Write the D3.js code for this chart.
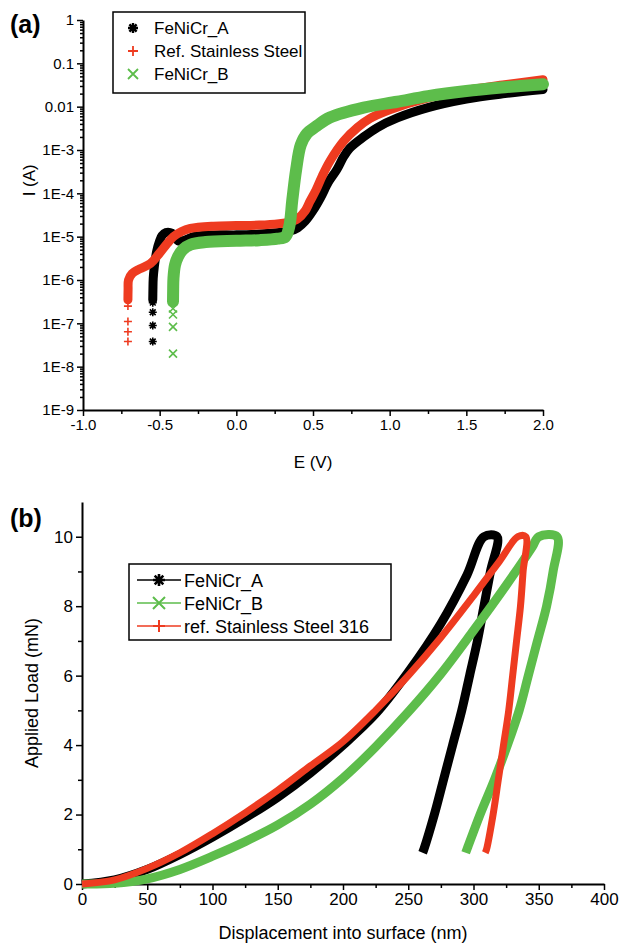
<!DOCTYPE html>
<html>
<head>
<meta charset="utf-8">
<script src="https://cdn.jsdelivr.net/npm/d3@7"></script>
<style>
body { margin: 0; background: #fff; }
svg { font-family: "Liberation Sans", Arial, sans-serif; }
</style>
</head>
<body>
<div class="container"></div>
<script>
// ---- panel (a): polarization curves, [E (V), I (A)] ----
var tailA = [[-0.545, 3.8e-8], [-0.545, 8.9e-8], [-0.545, 1.8e-7], [-0.545, 3.0e-7]];
var polA = [[-0.545, 3.5e-7], [-0.544, 6e-7], [-0.542, 1.1e-6], [-0.535, 2e-6], [-0.52, 4.5e-6], [-0.50, 8e-6],
    [-0.485, 1.05e-5], [-0.46, 1.25e-5], [-0.42, 1.2e-5], [-0.38, 8e-6], [-0.34, 8.2e-6], [-0.28, 1e-5],
    [-0.15, 1.1e-5], [0.0, 1.1e-5], [0.15, 1.15e-5], [0.28, 1.25e-5], [0.35, 1.35e-5], [0.40, 1.6e-5],
    [0.45, 2.3e-5], [0.50, 4e-5], [0.55, 8e-5], [0.60, 1.8e-4], [0.655, 3.5e-4], [0.70, 7e-4], [0.74, 1.1e-3],
    [0.83, 2e-3], [0.92, 3.3e-3], [1.05, 5.5e-3], [1.25, 9.5e-3], [1.5, 1.5e-2], [1.75, 2.0e-2], [2.0, 2.5e-2]];

var tailRef = [[-0.707, 3.8e-8], [-0.707, 6.4e-8], [-0.707, 1.1e-7], [-0.707, 2.5e-7]];
var polRef = [[-0.707, 3.5e-7], [-0.706, 6e-7], [-0.703, 1e-6], [-0.68, 1.4e-6], [-0.63, 1.8e-6], [-0.56, 2.4e-6],
    [-0.50, 4.2e-6], [-0.45, 7e-6], [-0.41, 1e-5], [-0.36, 1.3e-5], [-0.30, 1.55e-5], [-0.15, 1.75e-5],
    [0.0, 1.8e-5], [0.15, 1.85e-5], [0.28, 2e-5], [0.34, 2.15e-5], [0.40, 2.6e-5], [0.45, 4e-5], [0.48, 6.5e-5],
    [0.52, 1.2e-4], [0.56, 2.5e-4], [0.61, 5.5e-4], [0.70, 1.6e-3], [0.79, 3.3e-3], [0.87, 5.3e-3], [1.0, 8.5e-3],
    [1.25, 1.6e-2], [1.5, 2.4e-2], [1.75, 3.2e-2], [2.0, 4.2e-2]];

var tailB = [[-0.413, 2e-8], [-0.413, 8.3e-8], [-0.413, 1.6e-7], [-0.413, 2.2e-7]];
var polB = [[-0.413, 3.2e-7], [-0.412, 6e-7], [-0.410, 1.1e-6], [-0.40, 2.2e-6], [-0.38, 3.5e-6], [-0.35, 5e-6],
    [-0.30, 6.5e-6], [-0.2, 7.5e-6], [0.0, 8e-6], [0.15, 8.3e-6], [0.27, 9e-6], [0.32, 1.0e-5], [0.345, 1.7e-5],
    [0.365, 7e-5], [0.39, 3.5e-4], [0.42, 1.3e-3], [0.46, 2.4e-3], [0.52, 3.5e-3], [0.61, 5.6e-3], [0.83, 9.5e-3],
    [1.05, 1.3e-2], [1.25, 1.75e-2], [1.5, 2.3e-2], [1.75, 2.8e-2], [2.0, 3.3e-2]];

var eTicks = [-1.0, -0.5, 0.0, 0.5, 1.0, 1.5, 2.0];
var iTicks = [1, 0.1, 0.01, 1e-3, 1e-4, 1e-5, 1e-6, 1e-7, 1e-8, 1e-9];
var iTickLabels = ["1", "0.1", "0.01", "1E-3", "1E-4", "1E-5", "1E-6", "1E-7", "1E-8", "1E-9"];
var legendA = ["FeNiCr_A", "Ref. Stainless Steel", "FeNiCr_B"];

// ---- panel (b): nanoindentation, [displacement (nm), load (mN)] ----
var indentA = [[0, 0], [25, 0.12], [50, 0.42], [75, 0.85], [100, 1.35], [125, 1.9], [150, 2.5], [175, 3.2],
    [200, 4.0], [225, 4.9], [250, 6.1], [275, 7.5], [295, 8.9], [308, 10], [318, 10],
    [313, 9], [308, 8], [303, 7], [297, 6], [291, 5], [284, 4], [277, 3], [270, 2], [262, 1], [261, 0.9]];
var indentB = [[0, 0], [25, 0.02], [50, 0.15], [75, 0.42], [100, 0.8], [125, 1.22], [150, 1.7], [175, 2.3],
    [200, 3.05], [225, 3.95], [250, 4.95], [275, 6.05], [300, 7.3], [325, 8.6], [345, 9.7], [350, 10], [364, 10],
    [361, 9], [356, 8], [349, 7], [342, 6], [335, 5], [326, 4], [316, 3], [305, 2], [295, 1], [294, 0.9]];
var indentRef = [[0, 0], [25, 0.12], [50, 0.45], [75, 0.9], [100, 1.45], [125, 2.05], [150, 2.7], [175, 3.4],
    [200, 4.1], [225, 5.0], [250, 6.0], [275, 7.1], [300, 8.3], [320, 9.3], [334, 10], [340, 10],
    [338, 9], [336, 8], [333, 7], [330, 6], [327, 5], [323, 4], [319, 3], [315, 2], [310, 1], [309, 0.9]];

var dTicks = [0, 50, 100, 150, 200, 250, 300, 350, 400];
var loadTicks = [0, 2, 4, 6, 8, 10];
var legendB = ["FeNiCr_A", "FeNiCr_B", "ref. Stainless Steel 316"];

var black = "#000", red = "#ee3b20", green = "#5dbd4b";

var W = 620, H = 944;
var svg = d3.select("div.container").append("svg")
    .attr("width", W)
    .attr("height", H);

// marker glyphs: star (asterisk), plus, times
function glyph(type, s) {
    var d = s * 0.72;
    if (type === "star")
        return "M" + (-s) + ",0H" + s + "M0," + (-s) + "V" + s +
            "M" + (-d) + "," + (-d) + "L" + d + "," + d + "M" + (-d) + "," + d + "L" + d + "," + (-d);
    if (type === "plus")
        return "M" + (-s) + ",0H" + s + "M0," + (-s) + "V" + s;
    return "M" + (-s) + "," + (-s) + "L" + s + "," + s + "M" + (-s) + "," + s + "L" + s + "," + (-s);
}

/* ================= panel (a) ================= */
var xa = d3.scaleLinear().domain([-1, 2]).range([83, 543]);
var ya = d3.scaleLog().domain([1e-9, 1]).range([410, 20]);

var ga = svg.append("g");

var minorE = d3.range(-0.75, 2, 0.5);
ga.append("g").attr("transform", "translate(0," + ya(1e-9) + ")")
    .call(d3.axisBottom(xa).tickValues(minorE).tickSize(4).tickFormat(""))
    .call(function (g) { g.select(".domain").remove(); });
ga.append("g").attr("class", "ax").attr("transform", "translate(0," + ya(1e-9) + ")")
    .call(d3.axisBottom(xa).tickValues(eTicks).tickSize(6).tickSizeOuter(0)
        .tickFormat(function (d) { return d.toFixed(1); }));

var minorI = [];
iTicks.forEach(function (t) {
    if (t < 1) for (var k = 2; k < 10; k++) minorI.push(t * k);
});
ga.append("g").attr("transform", "translate(" + xa(-1) + ",0)")
    .call(d3.axisLeft(ya).tickValues(minorI).tickSize(3).tickFormat(""))
    .call(function (g) { g.select(".domain").remove(); });
ga.append("g").attr("class", "ax").attr("transform", "translate(" + xa(-1) + ",0)")
    .call(d3.axisLeft(ya).tickValues(iTicks).tickSize(6).tickSizeOuter(0)
        .tickFormat(function (d, i) { return iTickLabels[i]; }));

var lineA = d3.line()
    .x(function (d) { return xa(d[0]); })
    .y(function (d) { return ya(d[1]); })
    .curve(d3.curveCatmullRom.alpha(0.5));

var seriesA = [
    {pts: polA, tail: tailA, color: black, w: 9, g: "star"},
    {pts: polRef, tail: tailRef, color: red, w: 9, g: "plus"},
    {pts: polB, tail: tailB, color: green, w: 12, g: "times"}
];
seriesA.forEach(function (s) {
    ga.append("path").datum(s.pts)
        .attr("d", lineA)
        .attr("fill", "none")
        .attr("stroke", s.color)
        .attr("stroke-width", s.w)
        .attr("stroke-linejoin", "round")
        .attr("stroke-linecap", "round");
    ga.selectAll(null).data(s.tail).enter().append("path")
        .attr("transform", function (d) { return "translate(" + xa(d[0]) + "," + ya(d[1]) + ")"; })
        .attr("d", glyph(s.g, 4))
        .attr("stroke", s.color)
        .attr("stroke-width", 1.6)
        .attr("fill", "none");
});

// legend (a)
var lga = ga.append("g");
lga.append("rect").attr("x", 113).attr("y", 12).attr("width", 192).attr("height", 81)
    .attr("fill", "#fff").attr("stroke", "#000").attr("stroke-width", 1.5);
legendA.forEach(function (name, i) {
    var yy = 28 + i * 23;
    lga.append("path").attr("transform", "translate(133," + yy + ")")
        .attr("d", glyph(seriesA[i].g, 5))
        .attr("stroke", seriesA[i].color).attr("stroke-width", i === 0 ? 2.4 : 1.8).attr("fill", "none");
    lga.append("text").attr("x", 154).attr("y", yy + 6).attr("font-size", 17).text(name);
});

ga.append("text").attr("x", 10).attr("y", 33).attr("font-size", 25).attr("font-weight", "bold").text("(a)");
ga.append("text").attr("x", xa(0.5)).attr("y", 468).attr("text-anchor", "middle").attr("font-size", 17).text("E (V)");
ga.append("text").attr("transform", "translate(35," + ya(2e-4) + ") rotate(-90)")
    .attr("text-anchor", "middle").attr("font-size", 17).text("I (A)");

/* ================= panel (b) ================= */
var xb = d3.scaleLinear().domain([0, 400]).range([82, 604]);
var yb = d3.scaleLinear().domain([0, 11]).range([884, 502]);

var gb = svg.append("g");

gb.append("g").attr("transform", "translate(0," + yb(0) + ")")
    .call(d3.axisBottom(xb).tickValues(d3.range(25, 400, 50)).tickSize(4).tickFormat(""))
    .call(function (g) { g.select(".domain").remove(); });
gb.append("g").attr("class", "ax").attr("transform", "translate(0," + yb(0) + ")")
    .call(d3.axisBottom(xb).tickValues(dTicks).tickSize(6).tickSizeOuter(0));

gb.append("g").attr("transform", "translate(" + xb(0) + ",0)")
    .call(d3.axisLeft(yb).tickValues([1, 3, 5, 7, 9]).tickSize(4).tickFormat(""))
    .call(function (g) { g.select(".domain").remove(); });
gb.append("g").attr("class", "ax").attr("transform", "translate(" + xb(0) + ",0)")
    .call(d3.axisLeft(yb).tickValues(loadTicks).tickSize(6).tickSizeOuter(0));

var lineB = d3.line()
    .x(function (d) { return xb(d[0]); })
    .y(function (d) { return yb(d[1]); })
    .curve(d3.curveCatmullRom.alpha(0.5));

var seriesB = [
    {pts: indentA, color: black, w: 9, g: "star"},
    {pts: indentB, color: green, w: 9, g: "times"},
    {pts: indentRef, color: red, w: 7, g: "plus"}
];
seriesB.forEach(function (s) {
    gb.append("path").datum(s.pts)
        .attr("d", lineB)
        .attr("fill", "none")
        .attr("stroke", s.color)
        .attr("stroke-width", s.w)
        .attr("stroke-linejoin", "round");
});

// legend (b)
var lgb = gb.append("g");
lgb.append("rect").attr("x", 129).attr("y", 564).attr("width", 262).attr("height", 76)
    .attr("fill", "#fff").attr("stroke", "#000").attr("stroke-width", 1.5);
legendB.forEach(function (name, i) {
    var yy = 580 + i * 23;
    lgb.append("line").attr("x1", 137).attr("x2", 181).attr("y1", yy).attr("y2", yy)
        .attr("stroke", seriesB[i].color).attr("stroke-width", 1.5);
    lgb.append("path").attr("transform", "translate(159," + yy + ")")
        .attr("d", glyph(seriesB[i].g, 6))
        .attr("stroke", seriesB[i].color).attr("stroke-width", i === 0 ? 2.6 : 2).attr("fill", "none");
    lgb.append("text").attr("x", 184).attr("y", yy + 7).attr("font-size", 18).text(name);
});

gb.append("text").attr("x", 10).attr("y", 527).attr("font-size", 25).attr("font-weight", "bold").text("(b)");
gb.append("text").attr("x", xb(200)).attr("y", 939).attr("text-anchor", "middle").attr("font-size", 18)
    .text("Displacement into surface (nm)");
gb.append("text").attr("transform", "translate(38," + yb(5.5) + ") rotate(-90)")
    .attr("text-anchor", "middle").attr("font-size", 18).text("Applied Load (mN)");

// axis styling
svg.selectAll(".ax .domain").attr("stroke-width", 2);
svg.selectAll(".tick line").attr("stroke-width", 1.5);
svg.selectAll(".ax .tick text").attr("font-size", 17).attr("fill", "#000")
    .attr("font-family", "'Liberation Sans', Arial, sans-serif");
ga.selectAll(".ax .tick text").attr("font-size", 15);
</script>
</body>
</html>
